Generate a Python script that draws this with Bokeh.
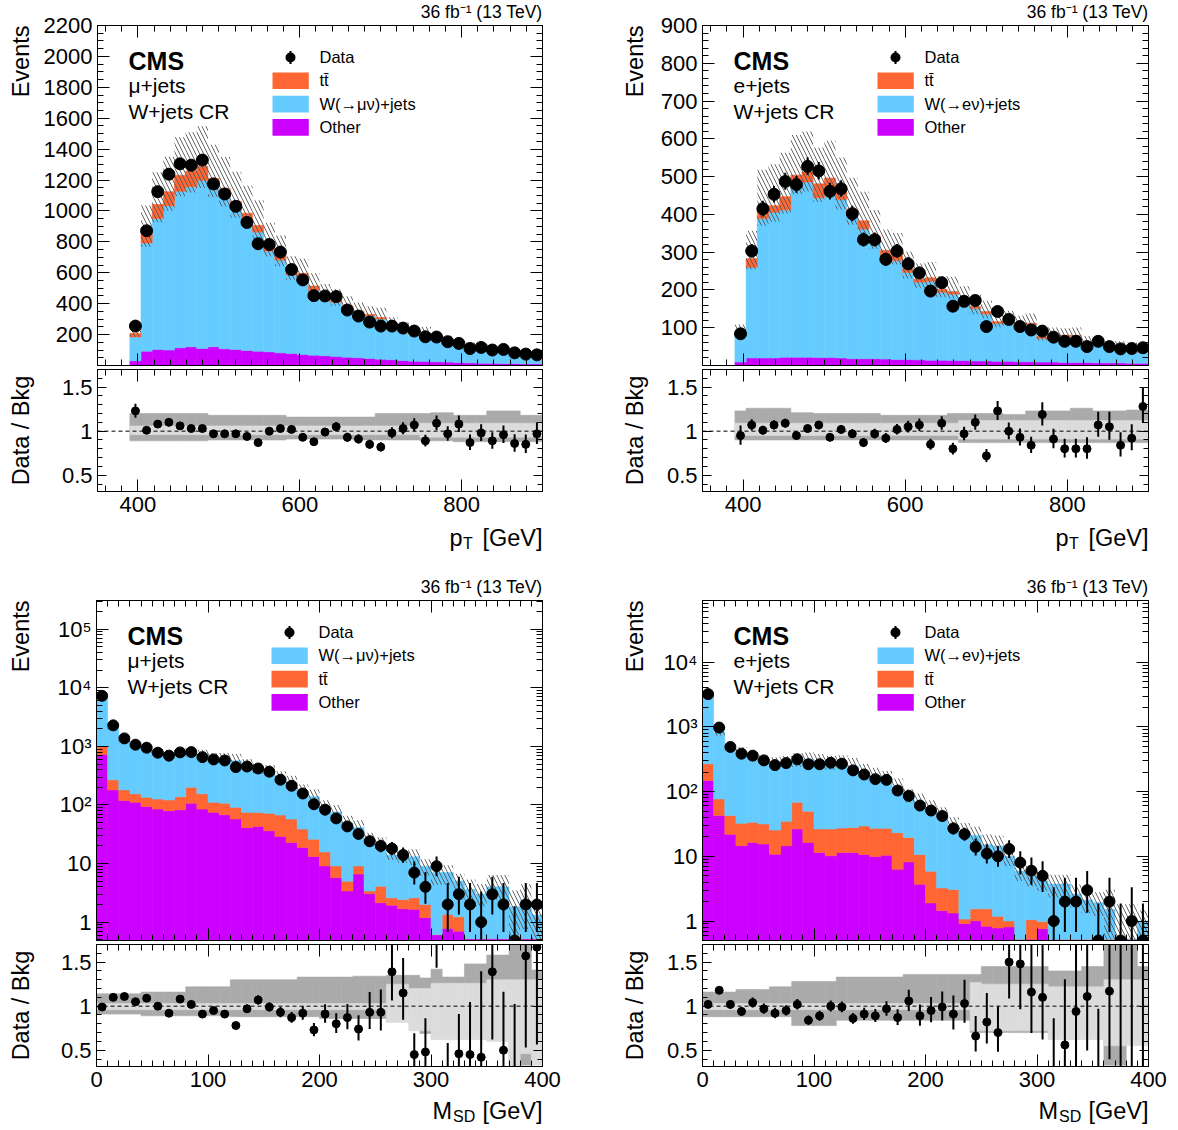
import numpy as np

from bokeh.embed import file_html
from bokeh.layouts import column, row
from bokeh.models import (BoxAnnotation, CustomJSTickFormatter, CustomLabelingPolicy,
                          FixedTicker, Label, LinearAxis, Range1d, Span, Title)
from bokeh.plotting import figure
from bokeh.resources import INLINE

# fonts and colours (CMS / ROOT style)
FONT = "Liberation Sans"
TT_COLOR = "#ff6633"
W_COLOR = "#66ccff"
OTHER_COLOR = "#cc00ff"
BAND_DARK = "#aaaaaa"
BAND_LIGHT = "#dcdcdc"

# geometry in px
FRAME_W = 446
MAIN_H = 340
RATIO_H = 122
STRIP_W = 40
MAIN_FIG_H = 367
RATIO_FIG_H = 154

# binning
pt_edges = np.linspace(390, 900, 38)
msd_edges = np.arange(0, 410, 10)

# ---------------- mu+jets, pT ----------------
data_mu_pt = [255, 872, 1125, 1238, 1305, 1296, 1329, 1175, 1110, 1030, 926, 788, 783, 734, 621, 554,
              452, 450, 446, 359, 320, 281, 255, 255, 242, 223, 186, 184, 154, 143, 110, 117, 100,
              104, 82, 74, 69]
ratio_mu_pt = [1.23, 1.01, 1.08, 1.10, 1.06, 1.03, 1.03, 0.97, 0.97, 0.97, 0.94, 0.87, 1.00, 1.03,
               1.02, 0.93, 0.88, 0.99, 1.05, 0.93, 0.91, 0.85, 0.82, 0.98, 1.03, 1.07, 0.89, 1.09,
               0.97, 1.08, 0.87, 0.98, 0.89, 0.96, 0.86, 0.85, 0.97]
other_mu_pt = [30, 93, 104, 100, 115, 121, 110, 121, 108, 104, 97, 93, 89, 82, 78, 71, 67, 63, 58,
               54, 50, 45, 41, 37, 32, 28, 26, 24, 22, 19, 17, 15, 15, 13, 13, 11, 11]
w_mu_pt = [155, 699, 847, 934, 1012, 1035, 1087, 1032, 982, 915, 830, 770, 651, 599, 509, 503, 421,
           370, 352, 315, 289, 275, 260, 214, 195, 172, 176, 139, 131, 108, 104, 100, 93, 91, 79,
           73, 57]
tt_mu_pt = [22, 71, 91, 91, 104, 102, 93, 58, 54, 43, 58, 43, 43, 32, 22, 22, 26, 22, 15, 17, 13, 11,
            10, 9, 8, 8, 7, 6, 6, 5, 5, 4, 4, 4, 3, 3, 3]
unc_hi_mu_pt = [1.20, 1.20, 1.20, 1.20, 1.20, 1.20, 1.20, 1.18, 1.18, 1.18, 1.18, 1.18, 1.18, 1.18,
                1.16, 1.16, 1.16, 1.16, 1.16, 1.16, 1.16, 1.16, 1.20, 1.20, 1.20, 1.20, 1.20, 1.21,
                1.21, 1.18, 1.18, 1.18, 1.23, 1.23, 1.23, 1.18, 1.18]
unc_lo_mu_pt = [0.89, 0.89, 0.89, 0.89, 0.89, 0.89, 0.89, 0.90, 0.90, 0.90, 0.90, 0.90, 0.90, 0.90,
                0.91, 0.91, 0.91, 0.91, 0.91, 0.91, 0.90, 0.90, 0.90, 0.90, 0.90, 0.90, 0.89, 0.89,
                0.89, 0.88, 0.88, 0.88, 0.88, 0.88, 0.88, 0.88, 0.88]
stat_hi_mu_pt = [1.06, 1.06, 1.06, 1.06, 1.06, 1.06, 1.06, 1.06, 1.06, 1.06, 1.06, 1.06, 1.06, 1.06,
                 1.06, 1.06, 1.06, 1.06, 1.06, 1.06, 1.06, 1.06, 1.06, 1.06, 1.06, 1.06, 1.09, 1.09,
                 1.09, 1.09, 1.09, 1.09, 1.09, 1.09, 1.09, 1.09, 1.09]
stat_lo_mu_pt = [0.96, 0.96, 0.96, 0.96, 0.96, 0.96, 0.96, 0.96, 0.96, 0.96, 0.96, 0.96, 0.96, 0.96,
                 0.96, 0.96, 0.96, 0.96, 0.96, 0.96, 0.96, 0.96, 0.96, 0.96, 0.96, 0.96, 0.93, 0.93,
                 0.93, 0.93, 0.93, 0.93, 0.93, 0.93, 0.93, 0.93, 0.93]

# ---------------- e+jets, pT ----------------
data_e_pt = [84, 303, 415, 453, 487, 479, 527, 515, 461, 468, 402, 333, 333, 281, 303, 269, 245, 197,
             219, 157, 170, 172, 103, 143, 122, 103, 94, 91, 75, 64, 64, 50, 64, 50, 44, 45, 47]
ratio_e_pt = [0.95, 1.07, 1.01, 1.07, 1.09, 0.95, 1.03, 1.07, 0.93, 1.02, 0.97, 0.87, 0.97, 0.92,
              1.02, 1.05, 1.07, 0.85, 1.09, 0.80, 0.97, 1.10, 0.72, 1.23, 1.00, 0.93, 0.84, 1.19,
              0.91, 0.80, 0.80, 0.80, 1.07, 1.05, 0.84, 0.92, 1.28]
other_e_pt = [9, 20, 20, 20, 22, 22, 22, 21, 21, 20, 18, 18, 18, 17, 16, 16, 15, 14, 14, 13, 13, 12,
              12, 11, 11, 10, 10, 9, 9, 8, 8, 8, 7, 7, 7, 6, 6]
w_e_pt = [75, 240, 369, 385, 390, 469, 464, 423, 438, 419, 384, 343, 307, 276, 261, 230, 206, 209,
          179, 176, 156, 138, 125, 100, 106, 96, 97, 63, 69, 68, 68, 51, 50, 38, 42, 40, 29]
tt_e_pt = [4, 23, 22, 18, 35, 13, 26, 37, 37, 20, 12, 22, 18, 12, 20, 10, 8, 9, 8, 7, 6, 6, 6, 5, 5,
           5, 5, 4, 4, 4, 4, 3, 3, 3, 3, 3, 2]
unc_hi_e_pt = [1.23, 1.26, 1.26, 1.26, 1.26, 1.21, 1.21, 1.20, 1.20, 1.20, 1.20, 1.20, 1.20, 1.18,
               1.18, 1.18, 1.18, 1.18, 1.18, 1.20, 1.20, 1.20, 1.20, 1.20, 1.19, 1.19, 1.23, 1.23,
               1.23, 1.23, 1.26, 1.26, 1.23, 1.23, 1.23, 1.24, 1.24]
unc_lo_e_pt = [0.90, 0.90, 0.90, 0.90, 0.90, 0.90, 0.90, 0.90, 0.90, 0.90, 0.90, 0.90, 0.90, 0.90,
               0.90, 0.90, 0.90, 0.90, 0.90, 0.90, 0.87, 0.87, 0.87, 0.87, 0.87, 0.87, 0.87, 0.87,
               0.87, 0.87, 0.87, 0.87, 0.87, 0.87, 0.87, 0.87, 0.87]
stat_hi_e_pt = [1.09, 1.09, 1.09, 1.09, 1.09, 1.09, 1.09, 1.09, 1.09, 1.09, 1.09, 1.09, 1.09, 1.09,
                1.09, 1.09, 1.09, 1.09, 1.09, 1.09, 1.12, 1.12, 1.12, 1.12, 1.12, 1.12, 1.12, 1.12,
                1.12, 1.12, 1.12, 1.12, 1.12, 1.12, 1.12, 1.12, 1.12]
stat_lo_e_pt = [0.95, 0.95, 0.95, 0.95, 0.95, 0.95, 0.95, 0.95, 0.95, 0.95, 0.95, 0.95, 0.95, 0.95,
                0.95, 0.95, 0.95, 0.95, 0.95, 0.95, 0.91, 0.91, 0.91, 0.91, 0.91, 0.91, 0.91, 0.91,
                0.91, 0.91, 0.91, 0.91, 0.91, 0.91, 0.91, 0.91, 0.91]

# ---------------- mu+jets, soft-drop mass ----------------
data_mu_msd = [7300, 2290, 1370, 1070, 950, 780, 695, 790, 800, 656, 599, 575, 443, 454, 420, 370,
               270, 213, 157, 103, 83, 59, 43, 32, 24, 20, 18, 14, 7, 4, 9, 2, 3, 2, 1, 3, 2, 0, 2, 2]
ratio_mu_msd = [0.99, 1.10, 1.11, 1.05, 1.09, 1.00, 0.92, 1.08, 1.02, 0.91, 0.95, 0.91, 0.78, 0.97,
                1.07, 0.99, 0.93, 0.87, 0.92, 0.73, 0.91, 0.80, 0.87, 0.74, 0.93, 0.93, 1.39, 1.15,
                0.45, 0.48, 2.14, 0.25, 0.46, 0.45, 0.42, 1.39, 0.50, 0.0, 1.57, 1.67]
other_mu_msd = [729, 181, 119, 111, 94, 85, 80, 83, 107, 85, 75, 68, 57.5, 41, 43, 36.2, 29, 22.9,
                18.8, 13.2, 9.1, 5.75, 3.4, 6.6, 3.06, 2.14, 1.93, 1.69, 1.65, 1.19, 0.61, 0.78, 0.7,
                0.52, 0.52, 0.52, 0.52, 0.52, 0.52, 0.52]
tt_mu_msd = [271, 88, 62, 44, 41, 41, 42, 55, 93, 70, 36, 39, 33.5, 34, 31.7, 35.8, 38.3, 34.6, 19.9,
             12.9, 6.7, 3.35, 1.6, 2.5, 0.34, 1.96, 0.67, 0.75, 0.95, 0.81, 0, 0.57, 0.53, 0, 0, 0,
             0, 0, 0, 0]
w_mu_msd = [6370, 1811, 1053, 864, 737, 654, 633, 593, 584, 566, 519, 525, 477, 393, 318, 300, 222,
            186, 129, 112, 75, 66, 44, 32, 21.6, 16.9, 11.4, 10.1, 10.4, 7.0, 6.4, 5.65, 3.8, 3.1,
            2.5, 3.5, 3.5, 1.3, 1.8, 0.8]
unc_hi_mu_msd = [1.14, 1.14, 1.14, 1.14, 1.16, 1.16, 1.16, 1.16, 1.22, 1.22, 1.22, 1.22, 1.30, 1.30,
                 1.30, 1.30, 1.30, 1.30, 1.33, 1.33, 1.33, 1.33, 1.33, 1.34, 1.34, 1.34, 1.35, 1.35,
                 1.35, 1.32, 1.42, 1.33, 1.33, 1.48, 1.48, 1.58, 1.58, 1.90, 1.90, 1.41]
unc_lo_mu_msd = [0.91, 0.91, 0.91, 0.91, 0.89, 0.89, 0.89, 0.89, 0.89, 0.89, 0.89, 0.89, 0.88, 0.88,
                 0.88, 0.88, 0.88, 0.88, 0.88, 0.88, 0.86, 0.86, 0.86, 0.86, 0.86, 0.86, 0.82, 0.82,
                 0.82, 0.69, 0.69, 0.69, 0.69, 0.69, 0.69, 0.69, 0.69, 0.33, 0.33, 0.60]
stat_hi_mu_msd = [1.03, 1.03, 1.03, 1.03, 1.03, 1.03, 1.03, 1.03, 1.03, 1.03, 1.03, 1.03, 1.03, 1.03,
                  1.03, 1.03, 1.03, 1.03, 1.03, 1.03, 1.03, 1.03, 1.03, 1.03, 1.03, 1.03, 1.25, 1.25,
                  1.20, 1.20, 1.26, 1.26, 1.26, 1.26, 1.26, 1.30, 1.30, 1.30, 1.30, 1.30]
stat_lo_mu_msd = [0.96, 0.96, 0.96, 0.96, 0.96, 0.96, 0.96, 0.96, 0.96, 0.96, 0.96, 0.96, 0.96, 0.96,
                  0.96, 0.96, 0.96, 0.96, 0.96, 0.96, 0.96, 0.96, 0.96, 0.96, 0.96, 0.96, 0.82, 0.82,
                  0.72, 0.72, 0.62, 0.62, 0.62, 0.62, 0.62, 0.60, 0.60, 0.33, 0.46, 0.33]

# ---------------- e+jets, soft-drop mass ----------------
data_e_msd = [3215, 978, 490, 386, 360, 304, 257, 276, 316, 265, 265, 280, 270, 213, 184, 156, 152,
              104, 86, 61, 51, 42, 27, 22, 14, 11, 10, 13, 8, 6, 5, 1, 2, 2, 3, 0, 2, 0, 1, 0]
ratio_e_msd = [1.02, 1.18, 1.02, 0.94, 1.04, 0.97, 0.92, 0.95, 1.02, 0.84, 0.89, 1.00, 0.99, 0.86,
               0.91, 0.89, 0.97, 0.87, 1.06, 0.89, 0.95, 0.99, 0.91, 1.03, 0.66, 0.82, 0.70, 1.50,
               1.48, 1.16, 1.10, 0.26, 0.56, 0.94, 1.11, 0.0, 1.17, 0.0, 2.2, 0.0]
other_e_msd = [149, 42.6, 22, 14.6, 16.4, 15.5, 10.8, 14.6, 26.5, 16.4, 11.5, 10.2, 11.5, 11.5, 10.7,
               9.9, 10.4, 6.3, 8.2, 3.7, 1.9, 1.45, 1.33, 0.91, 1.01, 0.83, 0.78, 0.81, 0.52, 0.52,
               0.76, 0.52, 0.52, 0.52, 0.52, 0.52, 0.52, 0.52, 0.52, 0.52]
tt_e_msd = [121, 34.4, 20.6, 17.8, 17.2, 16.2, 14.7, 20.2, 42.2, 33.4, 15, 16.3, 15.9, 16.5, 18.8,
            17.3, 16.8, 16.9, 11.3, 7.0, 4.0, 1.8, 1.74, 0.16, 0.53, 0.71, 0.4, 0.19, 0, 0.53, 0.22,
            0, 0, 0, 0, 0, 0, 0, 0, 0]
w_e_msd = [2882, 752, 437, 379, 312, 281, 254, 256, 241, 265, 272, 254, 246, 220, 173, 148, 130, 97,
           61.5, 58.3, 48.1, 38.75, 26.6, 22.9, 19.5, 13.5, 13.3, 9.0, 5.4, 3.85, 3.2, 3.2, 3.2, 2.1,
           1.6, 1.4, 1.0, 0, 0, 0.48]
unc_hi_e_msd = [1.16, 1.16, 1.16, 1.19, 1.19, 1.19, 1.22, 1.22, 1.28, 1.28, 1.28, 1.28, 1.33, 1.33,
                1.33, 1.33, 1.33, 1.33, 1.36, 1.36, 1.36, 1.36, 1.36, 1.36, 1.36, 1.45, 1.45, 1.45,
                1.45, 1.45, 1.45, 1.40, 1.40, 1.40, 1.45, 1.45, 2.00, 3.50, 3.50, 1.45]
unc_lo_e_msd = [0.88, 0.88, 0.88, 0.88, 0.88, 0.88, 0.88, 0.88, 0.78, 0.78, 0.78, 0.78, 0.84, 0.84,
                0.84, 0.84, 0.84, 0.84, 0.84, 0.84, 0.84, 0.84, 0.84, 0.84, 0.70, 0.70, 0.70, 0.70,
                0.70, 0.70, 0.70, 0.70, 0.70, 0.70, 0.70, 0.70, 0.33, 0.33, 0.60, 0.60]
stat_hi_e_msd = [1.03, 1.03, 1.03, 1.03, 1.03, 1.03, 1.03, 1.03, 1.03, 1.03, 1.03, 1.03, 1.03, 1.03,
                 1.03, 1.03, 1.03, 1.03, 1.03, 1.03, 1.03, 1.03, 1.03, 1.03, 1.27, 1.25, 1.25, 1.25,
                 1.25, 1.25, 1.25, 1.22, 1.22, 1.22, 1.22, 1.22, 1.30, 1.30, 1.30, 1.30]
stat_lo_e_msd = [0.96, 0.96, 0.96, 0.96, 0.96, 0.96, 0.96, 0.96, 0.96, 0.96, 0.96, 0.96, 0.96, 0.96,
                 0.96, 0.96, 0.96, 0.96, 0.96, 0.96, 0.96, 0.96, 0.96, 0.96, 0.72, 0.72, 0.72, 0.72,
                 0.72, 0.72, 0.72, 0.62, 0.62, 0.62, 0.62, 0.62, 0.55, 0.55, 0.55, 0.55]

# tick positions
pt_ticks = [400, 600, 800]
msd_ticks = [0, 100, 200, 300, 400]
ratio_ticks = [0.5, 1.0, 1.5]
log_ticks = [1, 10, 100, 1000, 10000, 100000]


def poisson_errors(n):
    """approximate Garwood (down, up) errors of counts"""
    n = np.asarray(n, dtype=float)
    up = np.sqrt(n + 0.75) + 1.0
    dn = np.sqrt(np.clip(n - 0.25, 0, None))
    return dn, up


def style_axis(ax, ticker, major, minor, labels, formatter=None):
    """ROOT like axis: ticks inside the frame"""
    ax.ticker = ticker
    ax.major_tick_in = major
    ax.major_tick_out = 0
    ax.minor_tick_in = minor
    ax.minor_tick_out = 0
    ax.axis_line_color = "black"
    ax.major_tick_line_color = "black"
    ax.minor_tick_line_color = "black"
    if labels:
        ax.major_label_text_font = FONT
        ax.major_label_text_font_size = "22px"
        ax.major_label_text_color = "black"
        ax.major_label_standoff = 5
        ax.formatter = formatter or CustomJSTickFormatter(code="return String(tick);")
    else:
        # ticks only, no labels at all
        ax.major_label_text_font_size = "0px"
        ax.major_label_standoff = 0
        ax.major_label_policy = CustomLabelingPolicy(code="return new Set();")


def frame_axes(p, xticker, yticker, x_labels, x_len, y_len, y_formatter=None):
    style_axis(p.below[0], xticker, x_len[0], x_len[1], x_labels)
    style_axis(p.left[0], yticker, y_len[0], y_len[1], True, y_formatter)
    top = LinearAxis()
    right = LinearAxis()
    p.add_layout(top, "above")
    p.add_layout(right, "right")
    style_axis(top, xticker, x_len[0], x_len[1], False)
    style_axis(right, yticker, y_len[0], y_len[1], False)


def add_text(p, text, x, y, size, bold=False, align="left", angle=0.0):
    p.add_layout(Label(x=x, y=y, x_units="screen", y_units="screen", text=text,
                       text_font=FONT, text_font_size=size, text_color="black",
                       text_font_style="bold" if bold else "normal",
                       text_align=align, text_baseline="middle", angle=angle))


def screen_box(p, left, right, bottom, top, color, radius=0):
    p.add_layout(BoxAnnotation(left=left, right=right, bottom=bottom, top=top,
                               left_units="screen", right_units="screen",
                               bottom_units="screen", top_units="screen",
                               fill_color=color, fill_alpha=1.0, line_color=None,
                               border_radius=radius))


def new_figure(x_range, y_range, log_y, border_left, border_right, height, border_top,
               border_bottom):
    p = figure(width=border_left + FRAME_W + border_right, height=height,
               x_range=x_range, y_range=y_range,
               y_axis_type="log" if log_y else "linear",
               output_backend="svg", toolbar_location=None,
               min_border_left=border_left, min_border_right=border_right,
               min_border_top=border_top, min_border_bottom=border_bottom)
    p.grid.visible = False
    p.outline_line_color = "black"
    p.background_fill_color = "white"
    p.border_fill_color = "white"
    return p


def text_figure(width, height):
    """empty figure that only carries texts outside the plot frames"""
    t = figure(width=width, height=height, x_range=Range1d(0, 1), y_range=Range1d(0, 1),
               x_axis_location=None, y_axis_location=None, toolbar_location=None,
               output_backend="svg", min_border=0)
    t.grid.visible = False
    t.outline_line_color = None
    return t


def make_panel(edges, x_range, xticker, data, ratio, stack, unc_hi, unc_lo, stat_hi, stat_lo,
               y_range, yticker, log_y, channel, legend, x_title, frame_left, border_right,
               footer_h, footer_y):
    """builds main (stacked histogram), ratio and axis titles of one control region"""
    left = edges[:-1]
    right = edges[1:]
    centers = 0.5 * (left + right)
    data = np.asarray(data, dtype=float)
    ratio = np.asarray(ratio, dtype=float)
    floor = y_range.start
    border_left = frame_left - STRIP_W
    col_w = frame_left + FRAME_W + border_right

    # ---- main figure ----
    p = new_figure(x_range, y_range, log_y, border_left, border_right, MAIN_FIG_H, 25, 2)
    y_fmt = None
    if log_y:
        y_fmt = CustomJSTickFormatter(code="""
            const sup = {2: "\u00b2", 3: "\u00b3", 4: "\u2074", 5: "\u2075"};
            const e = Math.round(Math.log10(tick));
            if (e == 0) return "1";
            if (e == 1) return "10";
            return "10" + sup[e];
        """)
    frame_axes(p, xticker, yticker, False, (12, 6), (12, 6), y_fmt)
    p.add_layout(Title(text="36 fb\u207b\u00b9 (13 TeV)", align="right", vertical_align="top",
                       standoff=3, offset=0, text_font=FONT, text_font_size="17.5px",
                       text_font_style="normal", text_color="black"), "above")

    base = np.full(len(left), 1e-3 if log_y else 0.0)
    for values, color in stack:
        top = base + np.asarray(values, dtype=float)
        p.quad(left=left, right=right, bottom=base, top=top,
               fill_color=color, line_color=color, line_width=0.6)
        base = top
    total = base

    # uncertainty on the total background
    band_hi = np.maximum(unc_hi, stat_hi)
    band_lo = np.minimum(unc_lo, stat_lo)
    p.quad(left=left, right=right, bottom=total * band_lo, top=total * band_hi,
           fill_alpha=0, line_color=None, hatch_pattern="\\", hatch_color="#555555",
           hatch_weight=1, hatch_scale=8, hatch_alpha=0.9)

    dn, up = poisson_errors(data)
    y_data = np.maximum(data, floor)
    p.segment(x0=centers, y0=np.maximum(data - dn, floor), x1=centers, y1=data + up,
              line_color="black", line_width=2)
    p.scatter(centers, y_data, size=11 if log_y else 12, color="black")

    # texts inside the frame
    add_text(p, "CMS", 31, MAIN_H - 35.5, "25px", bold=True)
    add_text(p, channel, 31, MAIN_H - 59.5, "21px")
    add_text(p, "W+jets CR", 31, MAIN_H - 86, "21px")

    # legend
    for i, (color, text) in enumerate(legend):
        yc = MAIN_H - (32 + 23.3 * i)
        if color is None:
            screen_box(p, 192, 194, yc - 6.5, yc + 6.5, "black")
            screen_box(p, 188, 198, yc - 5, yc + 5, "black", radius=5)
        else:
            screen_box(p, 175, 211.3, yc - 8.3, yc + 8.3, color)
        add_text(p, text, 222, yc + 0.5, "16.5px")

    # ---- ratio figure ----
    r = new_figure(x_range, Range1d(0.315, 1.7), False, border_left, border_right,
                   RATIO_FIG_H, 2, RATIO_FIG_H - 2 - RATIO_H)
    rticker = FixedTicker(ticks=ratio_ticks,
                          minor_ticks=list(np.round(np.arange(0.3, 1.75, 0.1), 2)))
    frame_axes(r, xticker, rticker, True, (12, 6), (9, 5))

    r.quad(left=left, right=right, bottom=unc_lo, top=unc_hi, fill_color=BAND_DARK,
           line_color=BAND_DARK, line_width=0.6)
    r.quad(left=left, right=right, bottom=stat_lo, top=stat_hi, fill_color=BAND_LIGHT,
           line_color=BAND_LIGHT, line_width=0.6)
    r.add_layout(Span(location=1.0, dimension="width", line_color="black",
                      line_dash="4 3", line_width=1))

    safe = np.where(data > 0, data, 1.0)
    r_dn = np.where(data > 0, ratio * dn / safe, 0.0)
    r_up = np.where(data > 0, ratio * up / safe, up / total)
    r.segment(x0=centers, y0=ratio - r_dn, x1=centers, y1=ratio + r_up,
              line_color="black", line_width=2)
    r.scatter(centers, ratio, size=8, color="black")

    # ---- axis titles outside the frames ----
    strip = text_figure(STRIP_W, MAIN_FIG_H + RATIO_FIG_H)
    add_text(strip, "Events", 20, MAIN_FIG_H + RATIO_FIG_H - 25, "23.5px",
             align="right", angle=np.pi / 2)
    add_text(strip, "Data / Bkg", 20, RATIO_FIG_H - 2 - RATIO_H / 2, "23.5px",
             align="center", angle=np.pi / 2)

    footer = text_figure(col_w, footer_h)
    main_t, sub_t, x0, x1 = x_title
    add_text(footer, main_t, frame_left + x0, footer_y, "23.5px")
    add_text(footer, sub_t, frame_left + x1, footer_y - 6, "16px")
    add_text(footer, "[GeV]", frame_left + FRAME_W, footer_y, "23.5px", align="right")

    return column(row(strip, column(p, r)), footer)


pt_range = Range1d(350, 900)
msd_range = Range1d(0, 400)
pt_ticker = FixedTicker(ticks=pt_ticks, minor_ticks=list(range(360, 901, 20)))
msd_ticker = FixedTicker(ticks=msd_ticks, minor_ticks=list(range(0, 401, 10)))
log_minor = [k * 10.0 ** e for e in range(-1, 6) for k in range(1, 10)]
log_ticker = FixedTicker(ticks=log_ticks, minor_ticks=log_minor)

tt_label = "t" + "t\u0304"
legend_mu_pt = [(None, "Data"), (TT_COLOR, tt_label), (W_COLOR, "W(\u2192\u03bc\u03bd)+jets"),
                (OTHER_COLOR, "Other")]
legend_e_pt = [(None, "Data"), (TT_COLOR, tt_label), (W_COLOR, "W(\u2192e\u03bd)+jets"),
               (OTHER_COLOR, "Other")]
legend_mu_msd = [(None, "Data"), (W_COLOR, "W(\u2192\u03bc\u03bd)+jets"), (TT_COLOR, tt_label),
                 (OTHER_COLOR, "Other")]
legend_e_msd = [(None, "Data"), (W_COLOR, "W(\u2192e\u03bd)+jets"), (TT_COLOR, tt_label),
                (OTHER_COLOR, "Other")]

tl = make_panel(pt_edges, pt_range, pt_ticker, data_mu_pt, ratio_mu_pt,
                [(other_mu_pt, OTHER_COLOR), (w_mu_pt, W_COLOR), (tt_mu_pt, TT_COLOR)],
                unc_hi_mu_pt, unc_lo_mu_pt, stat_hi_mu_pt, stat_lo_mu_pt,
                Range1d(0, 2200), FixedTicker(ticks=list(range(200, 2201, 200)),
                                              minor_ticks=list(range(0, 2201, 50))),
                False, "\u03bc+jets", legend_mu_pt, ("p", "T", 353, 366.5), 96, 72, 54, 38)
tr = make_panel(pt_edges, pt_range, pt_ticker, data_e_pt, ratio_e_pt,
                [(other_e_pt, OTHER_COLOR), (w_e_pt, W_COLOR), (tt_e_pt, TT_COLOR)],
                unc_hi_e_pt, unc_lo_e_pt, stat_hi_e_pt, stat_lo_e_pt,
                Range1d(0, 900), FixedTicker(ticks=list(range(100, 901, 100)),
                                             minor_ticks=list(range(0, 901, 20))),
                False, "e+jets", legend_e_pt, ("p", "T", 353, 366.5), 88, 22, 54, 38)
bl = make_panel(msd_edges, msd_range, msd_ticker, data_mu_msd, ratio_mu_msd,
                [(other_mu_msd, OTHER_COLOR), (tt_mu_msd, TT_COLOR), (w_mu_msd, W_COLOR)],
                unc_hi_mu_msd, unc_lo_mu_msd, stat_hi_mu_msd, stat_lo_mu_msd,
                Range1d(0.485, 3.1e5), log_ticker,
                True, "\u03bc+jets", legend_mu_msd, ("M", "SD", 336, 356.5), 96, 72, 32, 18)
br = make_panel(msd_edges, msd_range, msd_ticker, data_e_msd, ratio_e_msd,
                [(other_e_msd, OTHER_COLOR), (tt_e_msd, TT_COLOR), (w_e_msd, W_COLOR)],
                unc_hi_e_msd, unc_lo_e_msd, stat_hi_e_msd, stat_lo_e_msd,
                Range1d(0.5, 9.0e4), log_ticker,
                True, "e+jets", legend_e_msd, ("M", "SD", 336, 356.5), 88, 22, 32, 18)

page = column(row(tl, tr), row(bl, br))

open("out.html", "w").write(file_html(page, INLINE))
